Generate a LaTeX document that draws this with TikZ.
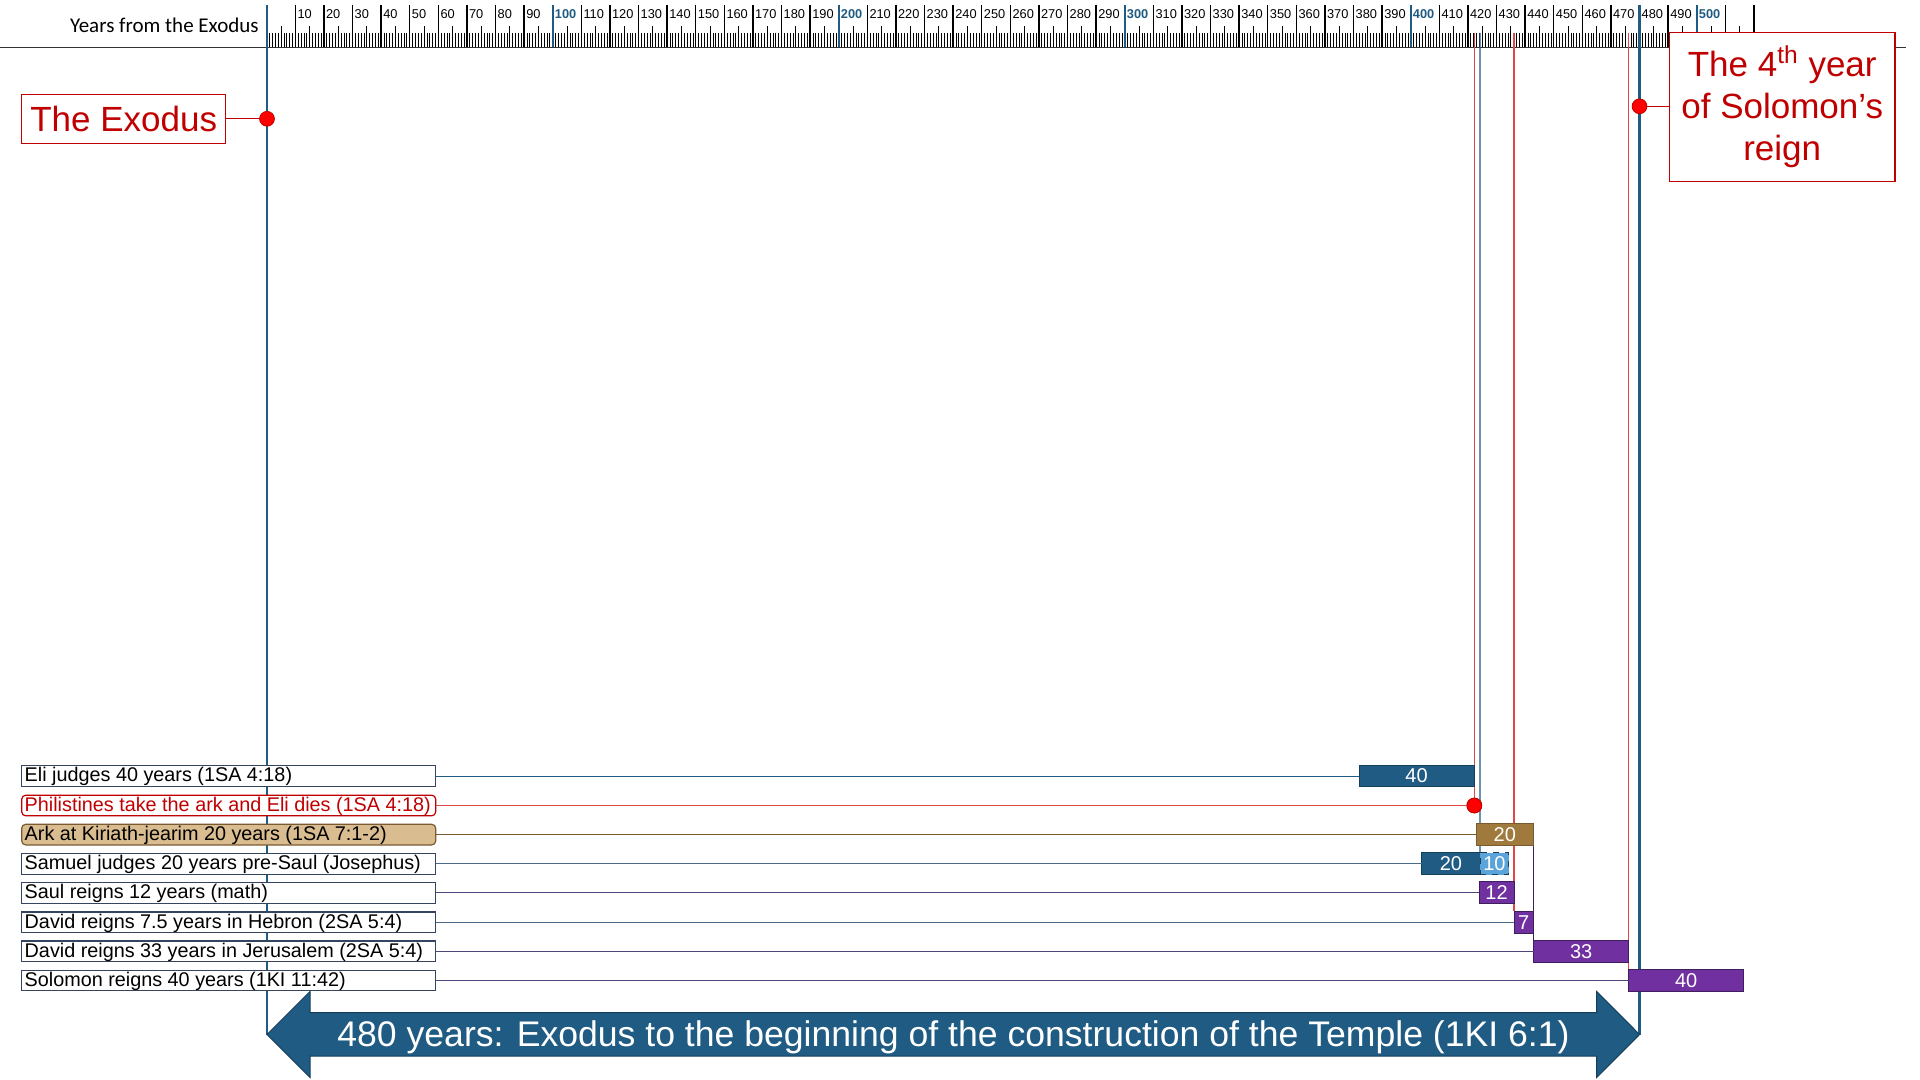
\documentclass[tikz,border=0pt]{standalone}
\usepackage{fontspec}
\setmainfont{Liberation Sans}
\newfontfamily\calibrifont{Carlito}
\definecolor{navy}{HTML}{1F5B82}
\definecolor{navydark}{HTML}{163F5C}
\definecolor{purp}{HTML}{7030A0}
\definecolor{purpdark}{HTML}{3E1E5C}
\definecolor{brownbar}{HTML}{A07A3C}
\definecolor{tanfill}{HTML}{D9BC8F}
\definecolor{brownline}{HTML}{7A5A30}
\definecolor{lblue}{HTML}{5BA4DA}
\definecolor{redtxt}{HTML}{C00000}
\definecolor{reddot}{HTML}{FF0000}
\definecolor{redline}{HTML}{E04848}
\definecolor{slate}{HTML}{35455F}
\definecolor{connA}{HTML}{4A6A8A}
\definecolor{connB}{HTML}{50457A}
\newcommand\labtxt[1]{\makebox[204pt][l]{#1}}
\begin{document}
\begin{tikzpicture}[x=0.5pt,y=-0.5pt,
  tickS/.style={line width=0.35pt, black},
  tickM/.style={line width=0.45pt, black},
  tickB/.style={line width=0.65pt, black},
  tickC/.style={line width=0.8pt, navy},
  rlab/.style={anchor=west, inner sep=0pt, font=\fontsize{6.4}{7}\selectfont},
  mainline/.style={line width=1.3pt, navy},
  thinred/.style={line width=0.6pt, redline},
  thinnavy/.style={line width=0.6pt, navy},
  conn/.style={line width=0.5pt},
  lab/.style={rectangle, anchor=west, draw=slate, fill=white, line width=0.6pt, inner xsep=1.5pt, inner ysep=0pt, outer sep=0pt,
    text height=8.1pt, text depth=2.2pt, font=\fontsize{9.9}{10.3}\selectfont},
  barbox/.style={rectangle, anchor=west, inner sep=0pt, outer sep=0pt, minimum height=10.85pt, line width=0.5pt,
    text=white, font=\fontsize{10}{11}\selectfont},
  navybar/.style={barbox, fill=navy, draw=navydark},
  purpbar/.style={barbox, fill=purp, draw=purpdark},
  reddotst/.style={circle, fill=reddot, draw=redtxt, line width=0.4pt, minimum size=7.4pt, inner sep=0pt, outer sep=0pt},
  callout/.style={rectangle, draw=redtxt, fill=white, line width=0.6pt, text=redtxt, inner sep=0pt, outer sep=0pt,
    font=\fontsize{17.5}{21.1}\selectfont, align=center}
]
\useasboundingbox (0,0) rectangle (1920,1080);
\fill[white] (0,0) rectangle (1920,1080);

% ---- ruler ----
\foreach \i in {0,...,520}{\draw[tickS] ({266.7+2.86*\i},33) -- ({266.7+2.86*\i},47.5);}
\foreach \i in {5,15,...,515}{\draw[tickM] ({266.7+2.86*\i},26) -- ({266.7+2.86*\i},47.5);}
\foreach \i in {10,20,...,520}{\draw[tickB] ({266.7+2.86*\i},5) -- ({266.7+2.86*\i},47.5);}
\foreach \i in {100,200,...,500}{\draw[tickC] ({266.7+2.86*\i},5) -- ({266.7+2.86*\i},47.5);}
\foreach \i in {10,20,...,500}{
  \ifnum\numexpr(\i/100)*100\relax=\i
    \node[rlab, text=navy, font=\fontsize{6.4}{7}\selectfont\bfseries] (r\i) at ({266.7+2.86*\i+1.8},14) {\i};
  \else
    \node[rlab] (r\i) at ({266.7+2.86*\i+1.8},14) {\i};
  \fi
}
\draw[line width=0.5pt, black!80] (0,48) -- (1906,48);
\node[anchor=east, inner sep=0pt, font=\calibrifont\fontsize{10.5}{12}\selectfont] (yfe) at (259,25) {Years from the Exodus};

% ---- coordinates ----
\coordinate (top0) at (267,5);
\coordinate (top480) at (1639.5,5);
\coordinate (topEli) at (1474.3,33);
\coordinate (topSam) at (1480,33);
\coordinate (topSaul) at (1514,33);
\coordinate (topSol) at (1628.7,33);
\coordinate (arrL) at (267,1034.5);
\coordinate (arrR) at (1639.5,1034.5);

% ---- bar positions (named) ----
\node[navybar, minimum width=57.5pt] (elibar) at (1359,776) {40};
\node[reddotst] (elidot) at (1474.3,805.5) {};
\node[barbox, fill=brownbar, draw=brownline, minimum width=28.75pt] (arkbar) at (1476,834.6) {20};
\node[navybar, minimum width=29.15pt] (sambar) at (1421.7,863.8) {20};
\node[barbox, fill=lblue, draw=navydark, dashed, minimum width=14.35pt] (sam10) at (1480,863.8) {10};
\node[purpbar, minimum width=17.5pt] (saulbar) at (1479,892.8) {12};
\node[purpbar, minimum width=9.75pt] (hebbar) at (1514,922.2) {7};
\node[purpbar, minimum width=47.6pt] (jerbar) at (1533.5,951.3) {33};
\node[purpbar, minimum width=57.4pt] (solbar) at (1628.7,980.4) {40};

% ---- vertical lines ----
\draw[thinnavy] (topSam) -- (sambar.north east);
\draw[thinred] (topEli) -- (elidot.north);
\draw[thinred] (topSaul) -- (hebbar.north west);
\draw[thinred] (topSol) -- (solbar.north west);
\draw[line width=0.6pt, purpdark] (arkbar.south east) -- (jerbar.north west);
\draw[mainline] (top0) -- (arrL);
\draw[mainline] (top480) -- (arrR);

% bars again, above the lines
\node[navybar, minimum width=57.5pt] at (1359,776) {40};
\node[reddotst] at (1474.3,805.5) {};
\node[barbox, fill=brownbar, draw=brownline, minimum width=28.75pt] at (1476,834.6) {20};
\node[navybar, minimum width=29.15pt] at (1421.7,863.8) {20};
\node[barbox, fill=lblue, draw=navydark, dashed, minimum width=14.35pt] at (1480,863.8) {10};
\node[purpbar, minimum width=17.5pt] at (1479,892.8) {12};
\node[purpbar, minimum width=9.75pt] at (1514,922.2) {7};
\node[purpbar, minimum width=47.6pt] at (1533.5,951.3) {33};
\node[purpbar, minimum width=57.4pt] at (1628.7,980.4) {40};

% ---- labels ----
\node[lab] (l1) at (21.7,776) {\labtxt{Eli judges 40 years (1SA 4:18)}};
\node[lab, draw=redtxt, text=redtxt, rounded corners=2pt] (l2) at (21.7,805.5) {\labtxt{Philistines take the ark and Eli dies (1SA 4:18)}};
\node[lab, fill=tanfill, draw=brownline, rounded corners=2pt] (l3) at (21.7,834.6) {\labtxt{Ark at Kiriath-jearim 20 years (1SA 7:1-2)}};
\node[lab] (l4) at (21.7,863.8) {\labtxt{Samuel judges 20 years pre-Saul (Josephus)}};
\node[lab] (l5) at (21.7,892.8) {\labtxt{Saul reigns 12 years (math)}};
\node[lab] (l6) at (21.7,922.2) {\labtxt{David reigns 7.5 years in Hebron (2SA 5:4)}};
\node[lab] (l7) at (21.7,951.3) {\labtxt{David reigns 33 years in Jerusalem (2SA 5:4)}};
\node[lab] (l8) at (21.7,980.4) {\labtxt{Solomon reigns 40 years (1KI 11:42)}};

\draw[conn, navy] (l1.east) -- (elibar.west);
\draw[conn, redline] (l2.east) -- (elidot.west);
\draw[conn, brownline] (l3.east) -- (arkbar.west);
\draw[conn, connA] (l4.east) -- (sambar.west);
\draw[conn, connB] (l5.east) -- (saulbar.west);
\draw[conn, connA] (l6.east) -- (hebbar.west);
\draw[conn, connB] (l7.east) -- (jerbar.west);
\draw[conn, connB] (l8.east) -- (solbar.west);

% ---- callouts ----
\node[callout, minimum width=102pt, minimum height=24.5pt] (exo) at (123.7,118.8) {The Exodus};
\node[reddotst] (exodot) at (267,118.8) {};
\draw[line width=0.6pt, redtxt] (exo.east) -- (exodot.west);

\node[callout, minimum width=112.85pt, minimum height=74.65pt] (sol) at (1782.2,107)
  {The 4\textsuperscript{th} year\\of Solomon’s\\reign};
\node[reddotst] (soldot) at (1639.5,106.3) {};
\draw[line width=0.6pt, redtxt] (soldot.east) -- (sol.west |- soldot);

% ---- bottom arrow ----
\fill[navy, draw=navydark, line width=0.5pt]
  (arrL) -- (310,991.5) -- (310,1012.5) -- (1596.7,1012.5) -- (1596.7,991.5) -- (arrR)
  -- (1596.7,1077.5) -- (1596.7,1056) -- (310,1056) -- (310,1077.5) -- cycle;
\node[text=white, inner sep=0pt, font=\fontsize{17.8}{20}\selectfont] (span) at (953.5,1037.5)
  {480 years: Exodus to the beginning of the construction of the Temple (1KI 6:1)};
\end{tikzpicture}
\end{document}
